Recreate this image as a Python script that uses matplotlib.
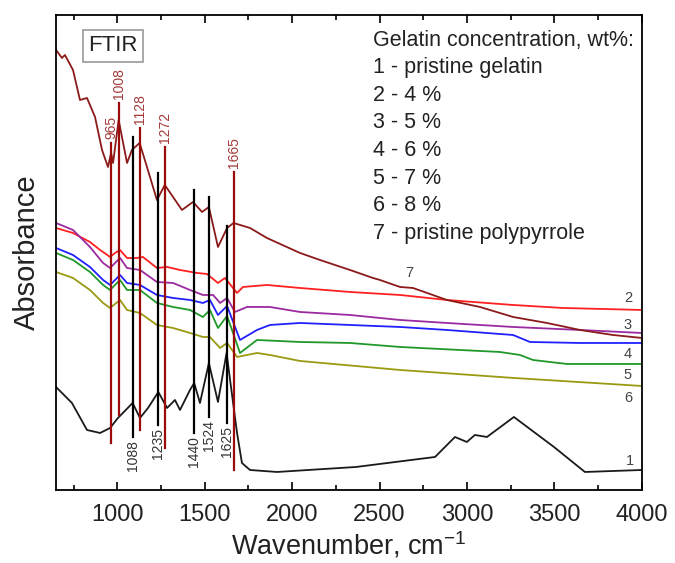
import matplotlib
matplotlib.use('Agg')
import matplotlib.pyplot as plt
import numpy as np

plt.rcParams['font.family'] = ['Liberation Sans', 'DejaVu Sans']

# spectra (absorbance, arbitrary units)
w1 = [650, 741, 827, 902, 959, 1004, 1088, 1130, 1176, 1235, 1285, 1330, 1359, 1416, 1440, 1473,
      1524, 1576, 1625, 1685, 1713, 1759, 1913, 2365, 2817, 2931, 2999, 3045, 3114, 3268, 3497, 3674, 4000]
a1 = [1.03, 0.87, 0.60, 0.57, 0.62, 0.72, 0.87, 0.72, 0.82, 0.98, 0.82, 0.90, 0.80, 1.00, 1.07, 0.87,
      1.27, 0.88, 1.37, 0.57, 0.27, 0.20, 0.18, 0.23, 0.33, 0.53, 0.48, 0.55, 0.53, 0.73, 0.43, 0.18, 0.20]

w2 = [650, 747, 844, 902, 959, 987, 1016, 1056, 1113, 1147, 1227, 1285, 1359, 1456, 1513, 1576, 1616,
      1685, 1719, 1856, 2045, 2331, 2617, 2885, 3263, 3549, 4000]
a2 = [2.62, 2.57, 2.48, 2.40, 2.33, 2.37, 2.40, 2.32, 2.32, 2.33, 2.22, 2.23, 2.20, 2.17, 2.16, 2.07, 2.12,
      1.97, 2.03, 2.05, 2.02, 1.98, 1.95, 1.90, 1.85, 1.82, 1.80]

w3 = [650, 747, 844, 919, 959, 1016, 1056, 1130, 1227, 1319, 1416, 1490, 1548, 1588, 1628, 1673, 1742,
      1873, 2045, 2331, 2617, 2885, 3263, 3646, 4000]
a3 = [2.67, 2.60, 2.43, 2.27, 2.22, 2.32, 2.22, 2.20, 2.08, 2.07, 2.00, 1.95, 1.95, 1.87, 1.92, 1.78, 1.83,
      1.83, 1.78, 1.75, 1.70, 1.67, 1.63, 1.60, 1.57]

w4 = [650, 747, 844, 919, 959, 1016, 1056, 1130, 1227, 1319, 1416, 1490, 1530, 1576, 1628, 1702, 1799,
      1873, 2045, 2331, 2617, 2885, 3263, 3360, 3646, 4000]
a4 = [2.42, 2.35, 2.23, 2.10, 2.05, 2.15, 2.07, 2.05, 1.95, 1.92, 1.90, 1.87, 1.90, 1.75, 1.84, 1.50, 1.60,
      1.65, 1.67, 1.65, 1.63, 1.60, 1.55, 1.48, 1.47, 1.47]

w5 = [650, 747, 844, 919, 959, 1016, 1056, 1130, 1227, 1319, 1416, 1490, 1530, 1576, 1628, 1702, 1799,
      2045, 2331, 2617, 3188, 3303, 3377, 3571, 4000]
a5 = [2.37, 2.30, 2.18, 2.05, 2.00, 2.10, 2.00, 2.00, 1.87, 1.83, 1.80, 1.73, 1.80, 1.62, 1.74, 1.37, 1.50,
      1.48, 1.47, 1.43, 1.38, 1.35, 1.30, 1.26, 1.26]

w6 = [650, 747, 844, 919, 959, 1016, 1056, 1130, 1227, 1319, 1416, 1490, 1530, 1588, 1628, 1685, 1799,
      1873, 2045, 2617, 3268, 4000]
a6 = [2.18, 2.12, 2.00, 1.87, 1.82, 1.90, 1.80, 1.77, 1.65, 1.62, 1.57, 1.53, 1.53, 1.42, 1.47, 1.33, 1.37,
      1.35, 1.29, 1.20, 1.12, 1.04]

w7 = [650, 684, 701, 747, 787, 827, 873, 913, 947, 965, 976, 1008, 1056, 1084, 1128, 1170, 1227, 1272,
      1319, 1370, 1433, 1485, 1524, 1576, 1628, 1665, 1759, 1856, 2045, 2159, 2331, 2462, 2502, 2617,
      2691, 2885, 3074, 3263, 3457, 3646, 3834, 4000]
a7 = [4.40, 4.32, 4.35, 4.20, 3.90, 3.92, 3.73, 3.40, 3.23, 3.37, 3.27, 3.70, 3.27, 3.40, 3.47, 3.23,
      2.90, 3.05, 2.93, 2.80, 2.88, 2.78, 2.83, 2.43, 2.62, 2.67, 2.62, 2.52, 2.37, 2.30, 2.20, 2.12,
      2.10, 2.03, 2.02, 1.90, 1.83, 1.73, 1.67, 1.60, 1.55, 1.52]

# band markers
red_bands = [965, 1008, 1128, 1272, 1665]
red_top = [3.47, 3.87, 3.62, 3.43, 3.18]
red_bot = [0.47, 0.75, 0.60, 0.42, 0.20]
black_bands = [1088, 1235, 1440, 1524, 1625]
black_top = [3.53, 3.17, 3.00, 2.93, 2.64]
black_bot = [0.53, 0.65, 0.57, 0.73, 0.67]

curve_labels = ['1', '2', '3', '4', '5', '6', '7']
label_x = [3909, 3897, 3897, 3897, 3897, 3897, 2645]
label_y = [0.29, 1.92, 1.65, 1.36, 1.15, 0.92, 2.17]

legend_lines = ['Gelatin concentration, wt%:', '1 - pristine gelatin', '2 - 4 %', '3 - 5 %',
                '4 - 6 %', '5 - 7 %', '6 - 8 %', '7 - pristine polypyrrole']

fig = plt.figure(figsize=(6.75, 5.63), dpi=100)
ax = fig.add_axes([0.083, 0.1297, 0.868, 0.8437])

dark_red = '#8b1a1a'
ax.plot(w1, a1, color='#1a1a1a', lw=1.3)
ax.plot(w2, a2, color='#ff2020', lw=1.3)
ax.plot(w3, a3, color='#9a2aa0', lw=1.3)
ax.plot(w4, a4, color='#2020ff', lw=1.3)
ax.plot(w5, a5, color='#20992a', lw=1.3)
ax.plot(w6, a6, color='#9a9a10', lw=1.3)
ax.plot(w7, a7, color=dark_red, lw=1.3)

for b, t, lo in zip(red_bands, red_top, red_bot):
    ax.plot([b, b], [lo, t], color='#9a0c0c', lw=1.6)
    ax.text(b, t + 0.04, str(b), rotation=90, ha='center', va='bottom', fontsize=10, color='#a33a3a')
for b, t, lo in zip(black_bands, black_top, black_bot):
    ax.plot([b, b], [lo, t], color='black', lw=1.6)
    ax.text(b, lo - 0.03, str(b), rotation=90, ha='center', va='top', fontsize=10, color='#333333')

for lab, x, y in zip(curve_labels, label_x, label_y):
    ax.text(x, y, lab, fontsize=10.5, color='#444444', ha='left', va='center')

for i, line in enumerate(legend_lines):
    ax.text(0.541, 0.947 - i * 0.0581, line, transform=ax.transAxes, fontsize=15.5,
            color='#222222', ha='left', va='center')

ax.text(0.097, 0.935, 'FTIR', transform=ax.transAxes, fontsize=16, ha='center', va='center',
        color='#222222', bbox=dict(boxstyle='square,pad=0.25', fc='white', ec='#999999', lw=1.2))

ax.set_xlim(650, 4000)
ax.set_ylim(0, 4.75)
ax.set_xticks([1000, 1500, 2000, 2500, 3000, 3500, 4000])
ax.set_xticks(np.arange(750, 4000, 500), minor=True)
ax.set_yticks([])
ax.tick_params(axis='x', which='both', direction='in', top=True, labelsize=17, pad=10, width=1.2,
               labelcolor='#222222')
ax.tick_params(axis='x', which='major', length=6)
ax.tick_params(axis='x', which='minor', length=3.5)
for s in ax.spines.values():
    s.set_linewidth(1.3)

ax.set_xlabel('Wavenumber, cm$^{\\mathregular{-1}}$', fontsize=19.5, labelpad=3, color='#222222')
ax.set_ylabel('Absorbance', fontsize=21, labelpad=11, color='#222222')

fig.savefig('out.png', dpi=100)
